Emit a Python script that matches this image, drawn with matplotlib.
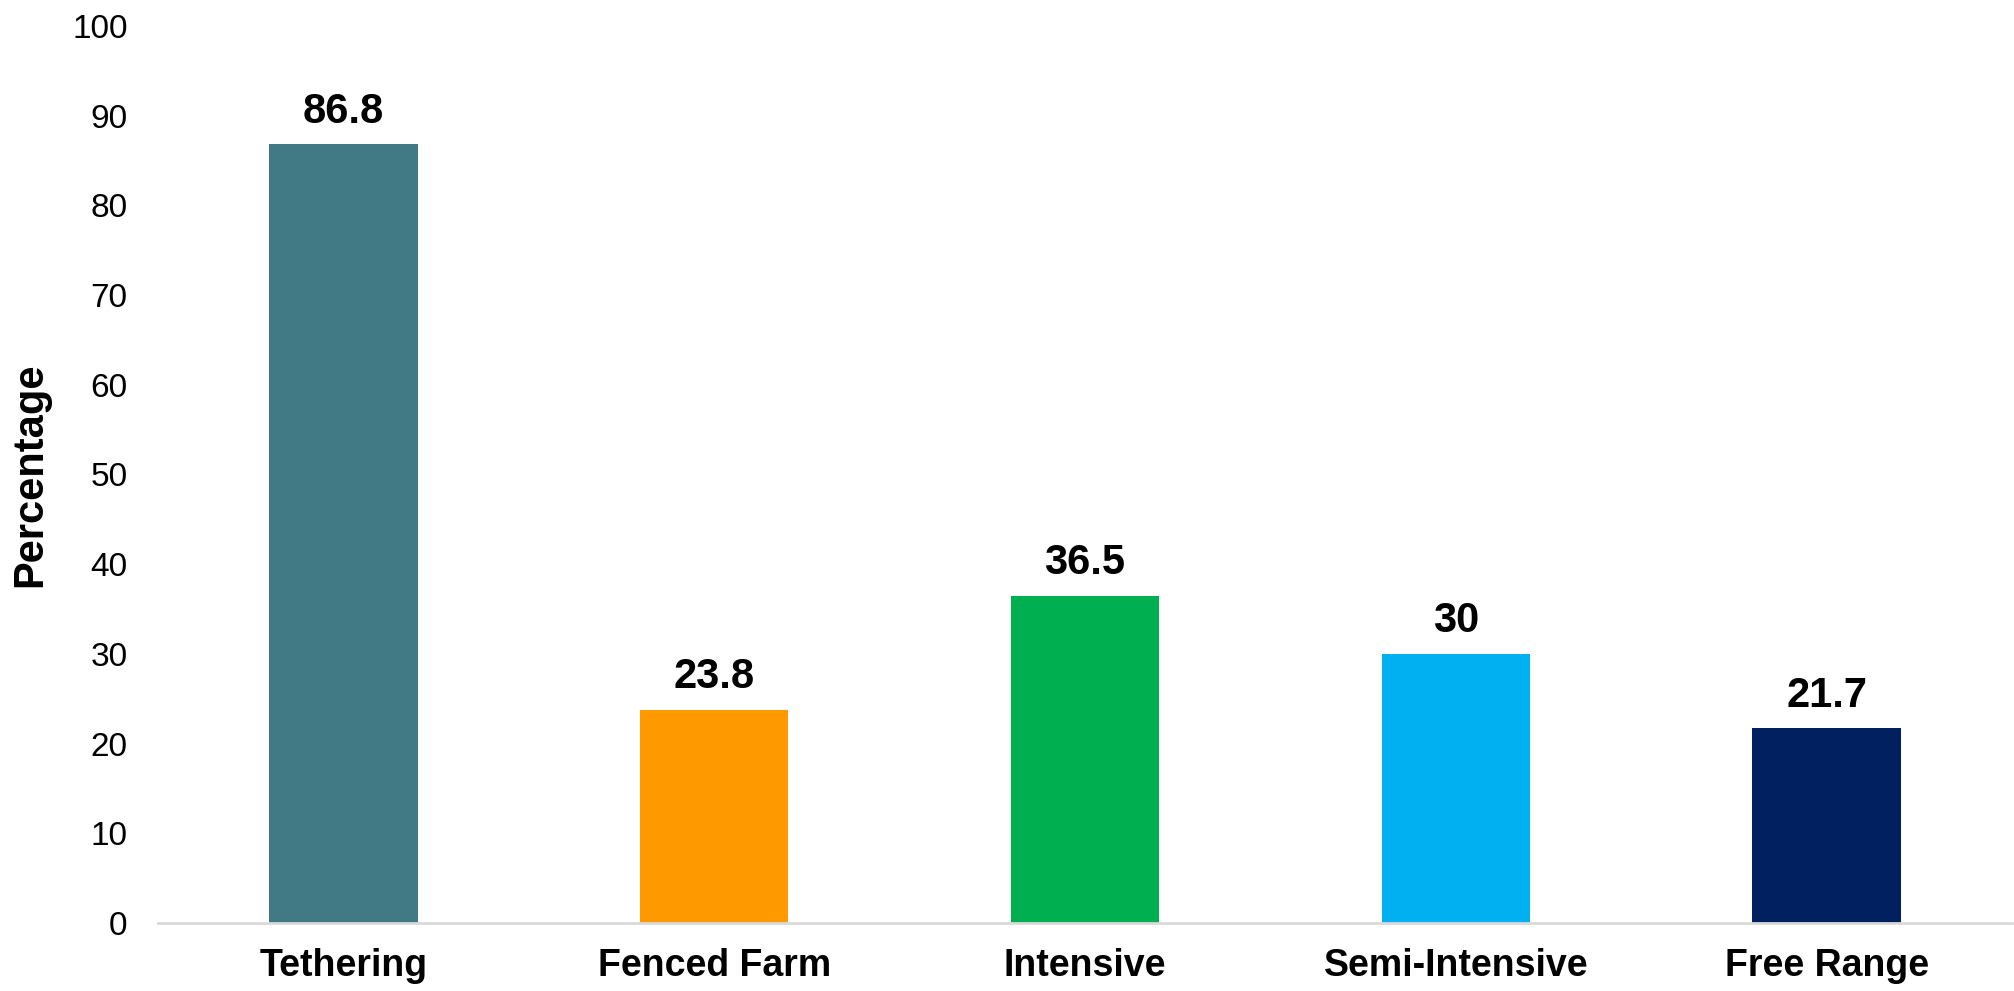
import matplotlib.pyplot as plt

# Daten
kategorien = ['Tethering', 'Fenced Farm', 'Intensive', 'Semi-Intensive', 'Free Range']
werte = [86.8, 23.8, 36.5, 30, 21.7]
werte_text = ['86.8', '23.8', '36.5', '30', '21.7']
farben = ['#417A84', '#FF9900', '#00B050', '#00B0F0', '#002060']

plt.rcParams['font.family'] = ['Liberation Sans', 'DejaVu Sans']

fig = plt.figure(figsize=(20.14, 9.91), dpi=100)
ax = fig.add_axes([0.0785, 0.0686, 0.9205, 0.9052])

x = range(len(kategorien))
bars = ax.bar(x, werte, width=0.4, color=farben)

for b, t in zip(bars, werte_text):
    ax.annotate(t, (b.get_x() + b.get_width() / 2, b.get_height()),
                xytext=(0, 9), textcoords='offset points',
                ha='center', va='bottom', fontsize=30, fontweight='bold')

ax.set_xlim(-0.5, 4.5)
ax.set_ylim(0, 100)
ax.set_yticks(range(0, 101, 10))
ax.set_xticks(list(x))
ax.set_xticklabels(kategorien, fontsize=27, fontweight='bold')
ax.tick_params(axis='y', labelsize=24, length=0, pad=22)
ax.tick_params(axis='x', length=0, pad=18)
ax.set_ylabel('Percentage', fontsize=30, fontweight='bold', labelpad=16)

for s in ['top', 'right', 'left']:
    ax.spines[s].set_visible(False)
ax.spines['bottom'].set_color('#D9D9D9')
ax.spines['bottom'].set_linewidth(2)

plt.savefig('out.png', dpi=100)
